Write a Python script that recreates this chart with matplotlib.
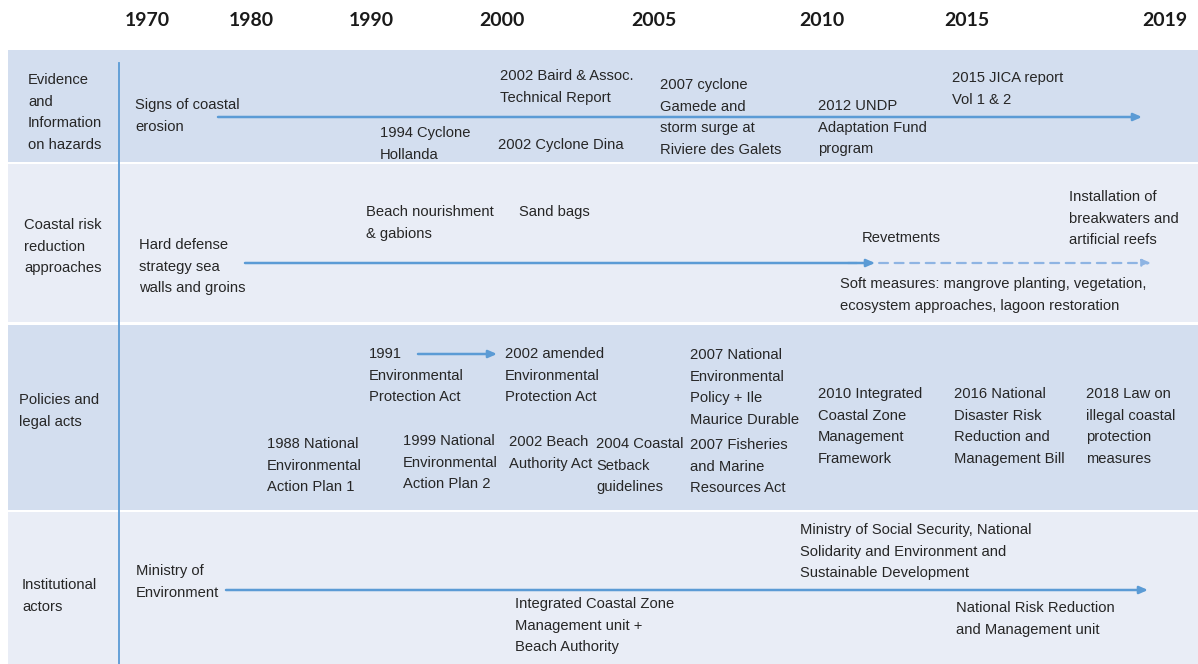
import matplotlib.pyplot as plt

# timeline header
years = ['1970', '1980', '1990', '2000', '2005', '2010', '2015', '2019']

# the four themes (rows)
row_labels = [
    'Evidence\nand\nInformation\non hazards',
    'Coastal risk\nreduction\napproaches',
    'Policies and\nlegal acts',
    'Institutional\nactors',
]

hazard_events = [
    'Signs of coastal\nerosion',
    '1994 Cyclone\nHollanda',
    '2002 Baird & Assoc.\nTechnical Report',
    '2002 Cyclone Dina',
    '2007 cyclone\nGamede and\nstorm surge at\nRiviere des Galets',
    '2012 UNDP\nAdaptation Fund\nprogram',
    '2015 JICA report\nVol 1 & 2',
]
approach_events = [
    'Hard defense\nstrategy sea\nwalls and groins',
    'Beach nourishment\n& gabions',
    'Sand bags',
    'Revetments',
    'Installation of\nbreakwaters and\nartificial reefs',
    'Soft measures: mangrove planting, vegetation,\necosystem approaches, lagoon restoration',
]
policy_events = [
    '1991\nEnvironmental\nProtection Act',
    '2002 amended\nEnvironmental\nProtection Act',
    '1988 National\nEnvironmental\nAction Plan 1',
    '1999 National\nEnvironmental\nAction Plan 2',
    '2002 Beach\nAuthority Act',
    '2004 Coastal\nSetback\nguidelines',
    '2007 National\nEnvironmental\nPolicy + Ile\nMaurice Durable',
    '2007 Fisheries\nand Marine\nResources Act',
    '2010 Integrated\nCoastal Zone\nManagement\nFramework',
    '2016 National\nDisaster Risk\nReduction and\nManagement Bill',
    '2018 Law on\nillegal coastal\nprotection\nmeasures',
]
actor_events = [
    'Ministry of\nEnvironment',
    'Ministry of Social Security, National\nSolidarity and Environment and\nSustainable Development',
    'Integrated Coastal Zone\nManagement unit +\nBeach Authority',
    'National Risk Reduction\nand Management unit',
]

# ---- layout (pixel positions on the 1198x664 canvas) ----
year_x = [147, 251, 371, 502, 654, 822, 967, 1165]
band_top = [50, 164, 325, 512]
band_bottom = [162, 322, 510, 664]
band_colors = ['#D3DEEF', '#E9EDF6', '#D3DEEF', '#E9EDF6']
row_label_pos = [(28, 80), (24, 225), (19, 400), (22, 585)]

hazard_pos = [(135, 105), (380, 133), (500, 76), (498, 145), (660, 85), (818, 106), (952, 78)]
approach_pos = [(139, 245), (366, 212), (519, 212), (862, 238), (1069, 197), (840, 284)]
policy_pos = [(369, 354), (505, 354), (267, 444), (403, 441), (509, 442), (596, 444),
              (690, 355), (690, 445), (818, 394), (954, 394), (1086, 394)]
actor_pos = [(136, 571), (800, 530), (515, 604), (956, 608)]

# arrows: (x0, x1, y)
solid_arrows = [(218, 1142, 117), (245, 875, 263), (418, 497, 354), (226, 1148, 590)]
dashed_arrows = [(848, 1151, 263)]

BLUE = '#5B9BD5'
LIGHT_BLUE = '#8EB4E3'
TEXT = '#262626'
LINE_H = 21.6
FONT = ['Liberation Sans', 'DejaVu Sans']


def put_text(ax, text, x, y, size=10.6):
    # one line at a time so the spacing matches the original slide
    for i, line in enumerate(text.split('\n')):
        ax.text(x, y + i * LINE_H, line, ha='left', va='center',
                fontsize=size, color=TEXT, family=FONT)


fig = plt.figure(figsize=(11.98, 6.64), dpi=100)
ax = fig.add_axes([0, 0, 1, 1])
ax.set_xlim(0, 1198)
ax.set_ylim(664, 0)
ax.axis('off')

# background bands
for top, bot, col in zip(band_top, band_bottom, band_colors):
    ax.barh((top + bot) / 2, 1190, height=bot - top, left=8, color=col, edgecolor='none')

# vertical separator between theme names and timeline
ax.plot([119, 119], [63, 664], color=BLUE, lw=1.3)

# year header
for yr, x in zip(years, year_x):
    ax.text(x, 20, yr, ha='center', va='center', fontsize=14,
            fontweight='bold', color='#1a1a1a', family=['Lato', 'DejaVu Sans'])

for lab, (x, y) in zip(row_labels, row_label_pos):
    put_text(ax, lab, x, y)

for events, positions in [(hazard_events, hazard_pos), (approach_events, approach_pos),
                          (policy_events, policy_pos), (actor_events, actor_pos)]:
    for txt, (x, y) in zip(events, positions):
        put_text(ax, txt, x, y)

for x0, x1, y in dashed_arrows:
    ax.annotate('', xy=(x1, y), xytext=(x0, y),
                arrowprops=dict(arrowstyle='-|>,head_length=0.5,head_width=0.22',
                                color=LIGHT_BLUE, lw=1.6, linestyle=(0, (4, 3)),
                                shrinkA=0, shrinkB=0))

for x0, x1, y in solid_arrows:
    ax.annotate('', xy=(x1, y), xytext=(x0, y),
                arrowprops=dict(arrowstyle='-|>,head_length=0.5,head_width=0.22',
                                color=BLUE, lw=1.8, shrinkA=0, shrinkB=0))

fig.savefig('out.png', dpi=100, facecolor='white')
